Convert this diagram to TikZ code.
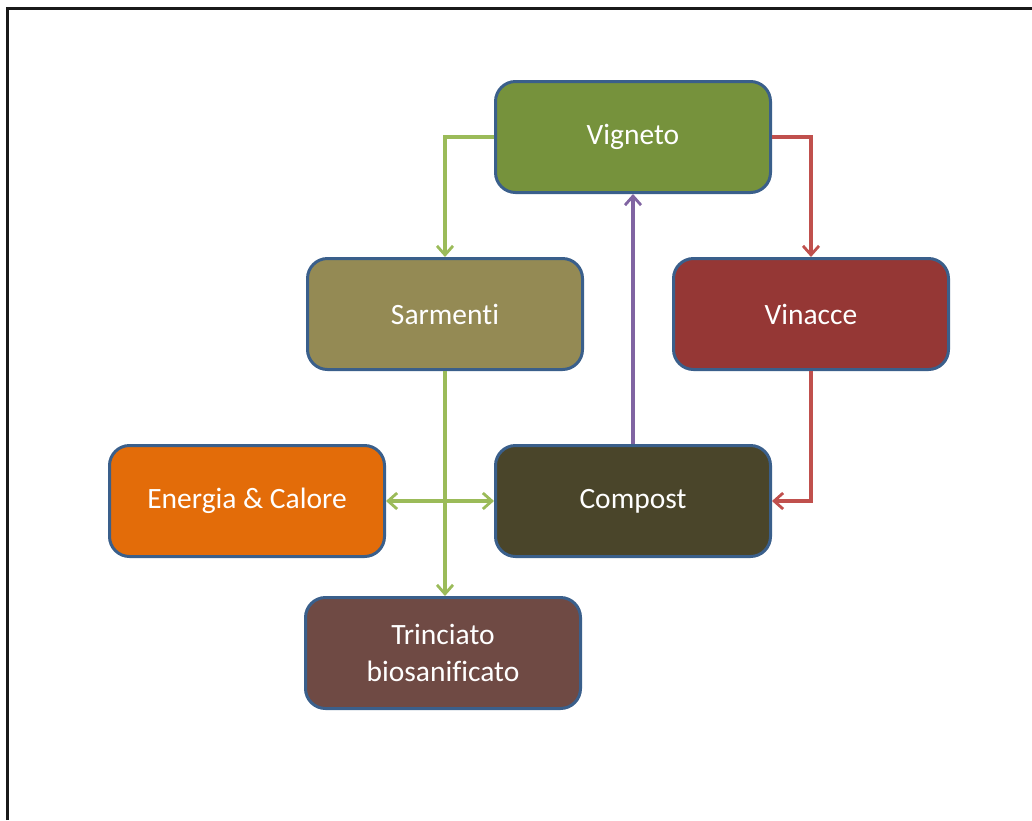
\documentclass[tikz,border=0pt]{standalone}
\usepackage{fontspec}
\setmainfont[Ligatures=NoCommon]{Carlito}
\usetikzlibrary{arrows.meta}
\definecolor{bordc}{HTML}{3A5F8B}
\definecolor{cvig}{HTML}{76923C}
\definecolor{csar}{HTML}{948A54}
\definecolor{cvin}{HTML}{953735}
\definecolor{cene}{HTML}{E36C09}
\definecolor{ccom}{HTML}{4A452A}
\definecolor{ctri}{HTML}{6F4A44}
\definecolor{agreen}{HTML}{9BBB59}
\definecolor{ared}{HTML}{C0504D}
\definecolor{apurple}{HTML}{8064A2}
\tikzset{
  box/.style={draw=bordc, line width=3pt, rounded corners=20pt, minimum width=275pt, minimum height=111pt,
    text=white, font=\fontsize{29.5}{37}\selectfont, align=center, inner sep=0pt},
  conn/.style={line width=3.5pt, -{Straight Barb[length=9pt,width=16pt,line width=2.8pt]}},
  conn2/.style={line width=3.5pt, {Straight Barb[length=9pt,width=16pt,line width=2.8pt]}-{Straight Barb[length=9pt,width=16pt,line width=2.8pt]}}
}
\begin{document}
\begin{tikzpicture}[x=1pt,y=-1pt]
\useasboundingbox (0,0) rectangle (1032,820);
\draw[line width=3pt, black!90] (7,820) -- (7,8) -- (1032,8);
\node[box, fill=cvig] (vig) at (633,137) {Vigneto};
\node[box, fill=csar] (sar) at (445,314) {Sarmenti};
\node[box, fill=cvin] (vin) at (811,314) {Vinacce};
\node[box, fill=cene] (ene) at (247,501) {Energia \& Calore};
\node[box, fill=ccom] (com) at (633,501) {Compost};
\node[box, fill=ctri] (tri) at (443,653) {Trinciato\\biosanificato};
\draw[conn, agreen] (vig.west) -| (sar.north);
\draw[conn, ared] (vig.east) -| (vin.north);
\draw[conn, ared] (vin.south) |- (com.east);
\draw[conn, apurple] (com.north) -- (vig.south);
\draw[conn, agreen] (sar.south) -- (sar.south |- tri.north);
\draw[conn2, agreen] (ene.east) -- (com.west);
\end{tikzpicture}
\end{document}
